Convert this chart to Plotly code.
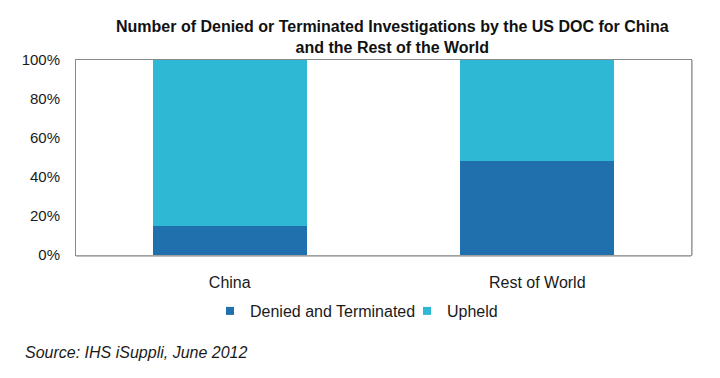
import plotly.graph_objects as go

categories = ["China", "Rest of World"]
denied = [15, 48]
upheld = [85, 52]
series_names = ["Denied and Terminated", "Upheld"]
colors = ["#1f70ad", "#2eb8d4"]
tick_vals = [0, 20, 40, 60, 80, 100]
tick_text = ["0%", "20%", "40%", "60%", "80%", "100%"]
title_lines = ["Number of Denied or Terminated Investigations by the US DOC for China",
               "and the Rest of the World"]
source_text = "Source: IHS iSuppli, June 2012"

FONT = "Liberation Sans, Arial, sans-serif"
TXT = "#1a1a1a"

# page body has an 8px margin, so the figure is sized to fit the window
W, H = 712, 370
L, R, T, B = 68, 29, 52, 123
PH = H - T - B  # plot height in px
PW = W - L - R


def py(fig_y):
    """figure pixel y -> paper y"""
    return (H - B - fig_y) / PH


def px(fig_x):
    return (fig_x - L) / PW


fig = go.Figure()
for name, vals, col in [(series_names[0], denied, colors[0]), (series_names[1], upheld, colors[1])]:
    fig.add_trace(go.Bar(x=categories, y=vals, name=name, showlegend=False,
                         marker=dict(color=col, line=dict(width=0))))
# legend proxies with small square swatches, one legend each so they can be placed
for name, col, lg in zip(series_names, colors, ["legend", "legend2"]):
    fig.add_trace(go.Scatter(x=[None], y=[None], mode="markers", name=name, legend=lg,
                             marker=dict(symbol="square", size=8, color=col)))

leg_common = dict(orientation="h", xanchor="left", yanchor="middle", y=py(303),
                  font=dict(family=FONT, size=16, color=TXT), itemwidth=30,
                  bgcolor="rgba(0,0,0,0)")

fig.update_layout(
    barmode="stack",
    bargap=0.5,
    width=W, height=H,
    margin=dict(l=L, r=R, t=T, b=B),
    paper_bgcolor="white", plot_bgcolor="white",
    font=dict(family=FONT, size=16, color=TXT),
    showlegend=True,
    legend=dict(x=px(202), **leg_common),
    legend2=dict(x=px(399), **leg_common),
    xaxis=dict(showline=True, linecolor="#8a8a8a", linewidth=1, mirror=True, ticks="",
               tickfont=dict(size=16, color=TXT), showgrid=False, ticklabelstandoff=13),
    yaxis=dict(range=[0, 100], tickvals=tick_vals, ticktext=tick_text, showline=True,
               linecolor="#8a8a8a", linewidth=1, mirror=True, showgrid=False, zeroline=False,
               ticks="", tickfont=dict(size=15, color=TXT), ticklabelstandoff=12),
)

# soft shadow under / right of plot frame
fig.add_shape(type="line", xref="paper", yref="paper", x0=0, x1=1, ysizemode="pixel",
              yanchor=0, y0=-1, y1=-1, line=dict(color="#a8a8a8", width=1.5))
fig.add_shape(type="line", xref="paper", yref="paper", y0=0, y1=1, xsizemode="pixel",
              xanchor=1, x0=1, x1=1, line=dict(color="#a8a8a8", width=1.5))

fig.add_annotation(text="<b>" + title_lines[0] + "<br>" + title_lines[1] + "</b>",
                   xref="paper", yref="paper", x=px(384), y=py(29), xanchor="center",
                   yanchor="middle", align="center", showarrow=False,
                   font=dict(family=FONT, size=16, color="#111"))
fig.add_annotation(text="<i>" + source_text + "</i>", xref="paper", yref="paper",
                   x=px(15), y=py(344), xanchor="left", yanchor="middle", showarrow=False,
                   font=dict(family=FONT, size=16, color=TXT))

fig.write_html("out.html")
